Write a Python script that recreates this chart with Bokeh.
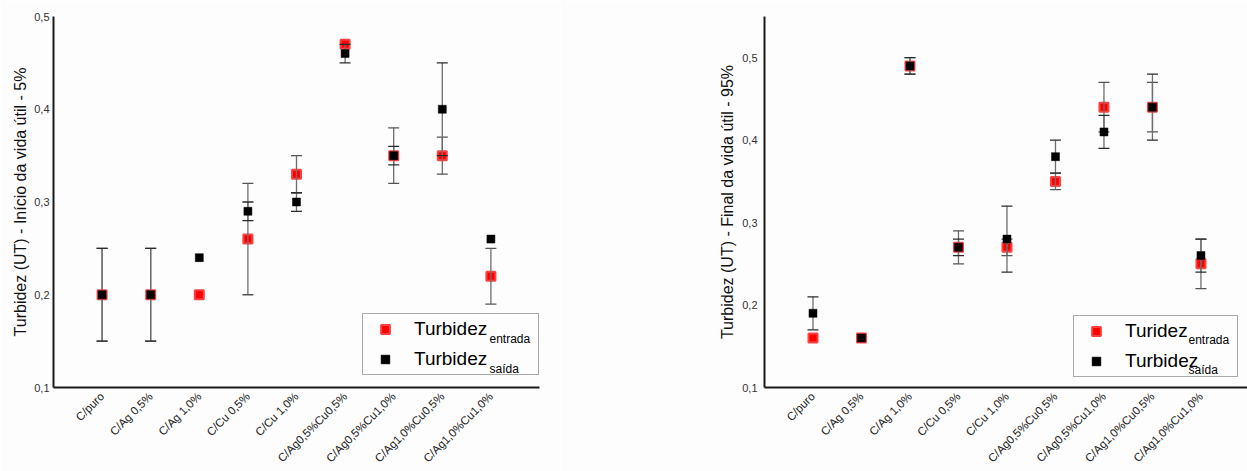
import math
from bokeh.plotting import figure
from bokeh.layouts import row
from bokeh.core.properties import value
from bokeh.models import (ColumnDataSource, Whisker, TeeHead, FixedTicker,
                          CustomJSTickFormatter, Legend, LegendItem, Range1d)
from bokeh.embed import file_html
from bokeh.resources import INLINE

# ---------------- data ----------------
categories = ["C/puro", "C/Ag 0,5%", "C/Ag 1,0%", "C/Cu 0,5%", "C/Cu 1,0%",
              "C/Ag0,5%Cu0,5%", "C/Ag0,5%Cu1,0%", "C/Ag1,0%Cu0,5%", "C/Ag1,0%Cu1,0%"]

# left panel: início da vida útil (5%)
entrada_5 = [0.20, 0.20, 0.20, 0.26, 0.33, 0.47, 0.35, 0.35, 0.22]
entrada_5_err = [0.05, 0.05, 0.00, 0.06, 0.02, 0.00, 0.03, 0.02, 0.03]
saida_5 = [0.20, 0.20, 0.24, 0.29, 0.30, 0.46, 0.35, 0.40, 0.26]
saida_5_err = [0.05, 0.05, 0.00, 0.01, 0.01, 0.01, 0.01, 0.05, 0.00]

# right panel: final da vida útil (95%)
entrada_95 = [0.16, 0.16, 0.49, 0.27, 0.27, 0.35, 0.44, 0.44, 0.25]
entrada_95_err = [0.00, 0.00, 0.01, 0.02, 0.01, 0.01, 0.03, 0.03, 0.03]
saida_95 = [0.19, 0.16, 0.49, 0.27, 0.28, 0.38, 0.41, 0.44, 0.26]
saida_95_err = [0.02, 0.00, 0.01, 0.01, 0.04, 0.02, 0.02, 0.04, 0.02]

y_ticks = [0.1, 0.2, 0.3, 0.4, 0.5]
subscripts = ["entrada", "saída"]

# ---------------- style / layout ----------------
FONT = "Liberation Sans"
H = 471
TOP = 16
FRAME_H = 371
BOTTOM = H - TOP - FRAME_H


def panel(width, b_left, b_right, xr, ymax, ylabel, entrada, entrada_err, saida, saida_err,
          labels, legend_loc, label_width, sub_px, offset_x, tick_standoff, label_standoff):
    frame_w = width - b_left - b_right
    p = figure(width=width, height=H, x_range=Range1d(*xr), y_range=Range1d(0.1, ymax),
               output_backend="svg", toolbar_location=None,
               min_border_left=b_left, min_border_right=b_right,
               min_border_top=TOP, min_border_bottom=BOTTOM)
    p.background_fill_color = "#fdfdfd"
    p.border_fill_color = "#fdfdfd"
    p.outline_line_color = None
    p.xgrid.visible = False
    p.ygrid.visible = False

    xs = list(range(len(categories)))

    def whisk(vals, errs, head_color):
        idx = [i for i, e in enumerate(errs) if e > 0]
        src = ColumnDataSource(dict(x=[xs[i] for i in idx],
                                    lower=[vals[i] - errs[i] for i in idx],
                                    upper=[vals[i] + errs[i] for i in idx]))
        w = Whisker(source=src, base="x", lower="lower", upper="upper", dimension="height",
                    line_color="#6e6e6e", line_width=1.3, level="underlay",
                    upper_head=TeeHead(size=11, line_color=head_color, line_width=1.3),
                    lower_head=TeeHead(size=11, line_color=head_color, line_width=1.3))
        p.add_layout(w)

    src_in = ColumnDataSource(dict(x=xs, y=entrada))
    src_out = ColumnDataSource(dict(x=xs, y=saida))
    r_in = p.scatter("x", "y", source=src_in, marker="square", size=9,
                     fill_color="#ff0000", line_color="#ff4040", line_width=2, level="underlay")
    whisk(entrada, entrada_err, "#555555")
    whisk(saida, saida_err, "#2a2a2a")
    r_out = p.scatter("x", "y", source=src_out, marker="square", size=8,
                      fill_color="#000000", line_color="#000000", line_width=0.5)

    # axes
    p.yaxis.ticker = FixedTicker(ticks=y_ticks)
    p.yaxis.formatter = CustomJSTickFormatter(code="return tick.toFixed(1).replace('.', ',')")
    p.xaxis.ticker = FixedTicker(ticks=xs)
    p.xaxis.major_label_overrides = {i: c for i, c in enumerate(categories)}
    p.xaxis.major_label_orientation = math.pi / 4
    for ax in (p.xaxis, p.yaxis):
        ax.axis_line_color = "#1a1a1a"
        ax.axis_line_width = 2
        ax.major_tick_line_color = None
        ax.minor_tick_line_color = None
        ax.major_tick_out = 0
        ax.major_tick_in = 0
        ax.minor_tick_out = 0
        ax.minor_tick_in = 0
        ax.major_label_text_font = FONT
        ax.major_label_text_color = "#333333"
    p.xaxis.major_label_text_font_size = "11.5px"
    p.xaxis.major_label_text_line_height = 1.0
    p.xaxis.major_label_text_color = "#222222"
    p.xaxis.major_label_standoff = 7
    p.xaxis.axis_label_standoff = 0
    p.yaxis.major_label_text_font_size = "11px"
    p.yaxis.major_label_standoff = tick_standoff
    p.yaxis.axis_label = ylabel
    p.yaxis.axis_label_text_font = FONT
    p.yaxis.axis_label_text_font_size = "16px"
    p.yaxis.axis_label_text_font_style = "normal"
    p.yaxis.axis_label_text_color = "#111111"
    p.yaxis.axis_label_standoff = label_standoff

    # legend
    legend = Legend(items=[LegendItem(label=labels[0], renderers=[r_in]),
                           LegendItem(label=labels[1], renderers=[r_out])],
                    location=legend_loc, margin=0, padding=4, spacing=8,
                    glyph_width=36, glyph_height=22, label_standoff=11,
                    label_width=label_width, label_height=22,
                    label_text_font=FONT, label_text_font_size="19px",
                    label_text_color="#000000",
                    border_line_color="#555555", border_line_width=1,
                    background_fill_alpha=0.0)
    p.add_layout(legend)

    # subscripts of the legend labels
    def to_data(px, py):
        x = xr[0] + (px - offset_x - b_left) / frame_w * (xr[1] - xr[0])
        y = 0.1 + (TOP + FRAME_H - py) / FRAME_H * (ymax - 0.1)
        return x, y

    pts = [to_data(px, py) for px, py in sub_px]
    sub_src = ColumnDataSource(dict(x=[q[0] for q in pts], y=[q[1] for q in pts], text=subscripts))
    p.text("x", "y", text="text", source=sub_src, text_font=value(FONT),
           text_font_size=value("12px"), text_color="#000000",
           text_baseline="alphabetic", text_align="left")
    return p


left = panel(560, 53, 21, (-1, 9), 0.5,
             "Turbidez (UT) - Início da vida útil - 5%",
             entrada_5, entrada_5_err, saida_5, saida_5_err,
             ["Turbidez", "Turbidez"], (309, 12), 120,
             [(489, 338), (489, 368)], 0, 4, 2)

right = panel(687, 204, 0, (-1, 8.96), 0.55,
              "Turbidez (UT) - Final da vida útil - 95%",
              entrada_95, entrada_95_err, saida_95, saida_95_err,
              ["Turidez", "Turbidez"], (309, 10), 108,
              [(1188, 339.5), (1188, 369.5)], 560, 7, 3)

layout = row(left, right)
open("out.html", "w").write(file_html(layout, INLINE))
